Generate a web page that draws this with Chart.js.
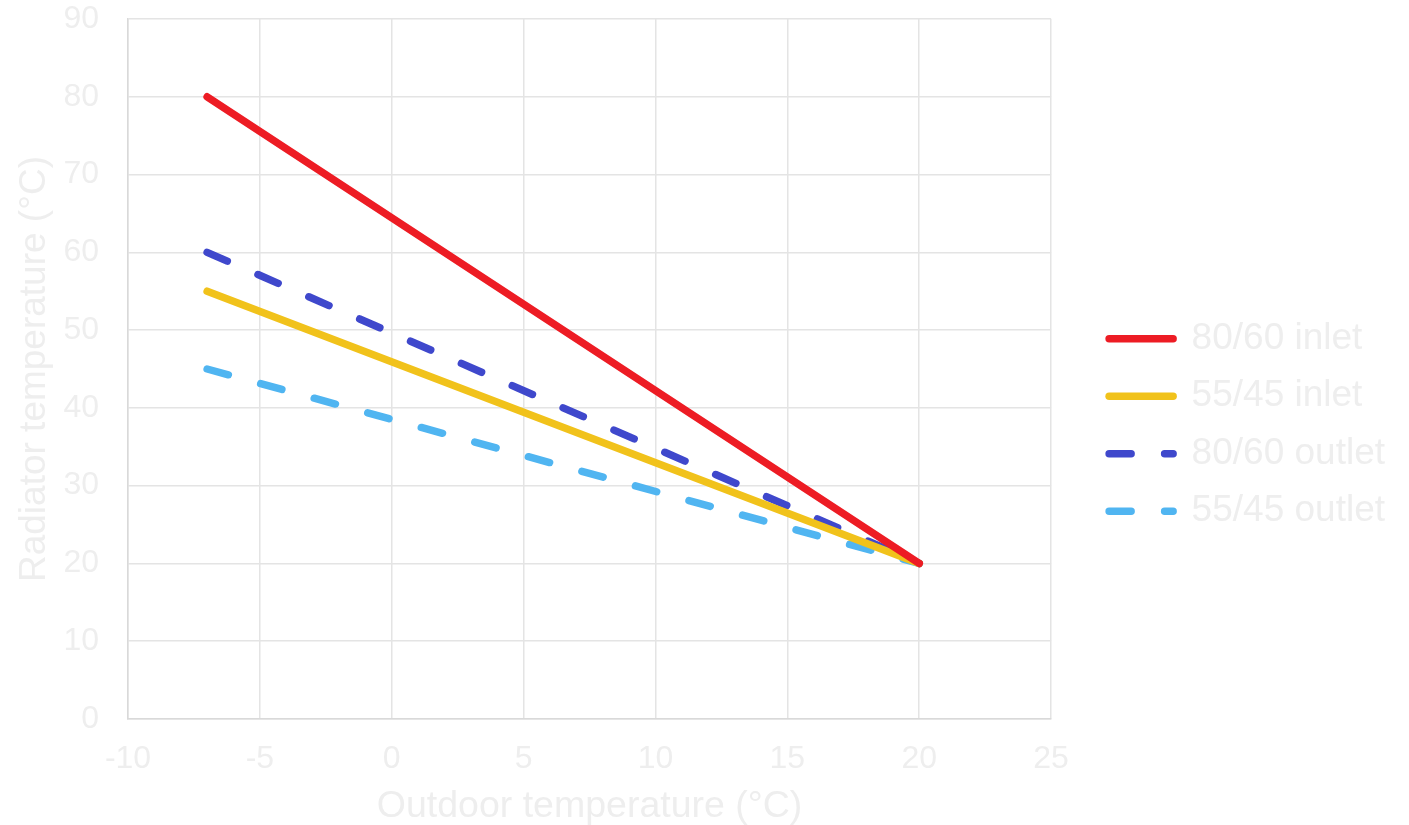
<!DOCTYPE html>
<html>
<head>
<meta charset="utf-8">
<title>Radiator temperature vs outdoor temperature</title>
<script src="https://cdn.jsdelivr.net/npm/chart.js@4/dist/chart.umd.min.js"></script>
<style>
  html, body { margin: 0; padding: 0; background: #ffffff; }
  #wrap { width: 1409px; height: 825px; }
</style>
</head>
<body>
<div id="wrap"><canvas id="chart" width="1409" height="825"></canvas></div>
<script>
// Outdoor temperature (°C) at the two ends of each heating curve
const outdoorTemps = [-7, 20];

// Radiator temperatures (°C) for each system
const inlet8060 = [80, 20];
const inlet5545 = [55, 20];
const outlet8060 = [60, 20];
const outlet5545 = [45, 20];

const seriesNames = ['80/60 inlet', '55/45 inlet', '80/60 outlet', '55/45 outlet'];

// Axis tick values
const xTickValues = [-10, -5, 0, 5, 10, 15, 20, 25];
const yTickValues = [0, 10, 20, 30, 40, 50, 60, 70, 80, 90];

const FONT = "'Liberation Sans', Arial, Helvetica, sans-serif";
const TEXT = '#eeeeee';
const GRID = '#e4e4e4';
const LINE_W = 7.5;
const DASH = [22, 33.5];

function toPoints(values) {
  return outdoorTemps.map((x, i) => ({ x: x, y: values[i] }));
}

function series(label, values, color, dash) {
  return {
    label: label,
    data: toPoints(values),
    borderColor: color,
    backgroundColor: color,
    borderWidth: LINE_W,
    borderDash: dash,
    borderCapStyle: 'round',
    borderJoinStyle: 'round',
    pointRadius: 0,
    pointHoverRadius: 0,
    fill: false,
    tension: 0
  };
}

// Empty layout box that keeps some white space between the plot and the legend
const legendGap = {
  id: 'legendGap',
  beforeInit(chart) {
    Chart.layouts.addBox(chart, {
      position: 'right',
      weight: 0,
      fullSize: false,
      options: {},
      left: 0, top: 0, right: 0, bottom: 0, width: 0, height: 0,
      update(maxWidth, maxHeight) { this.width = 37.5; this.height = maxHeight; },
      isHorizontal() { return false; },
      getPadding() { return { left: 0, right: 0, top: 0, bottom: 0 }; },
      draw() {}
    });
  }
};

new Chart(document.getElementById('chart'), {
  type: 'line',
  data: {
    datasets: [
      series(seriesNames[0], inlet8060, '#ed1c24', []),
      series(seriesNames[1], inlet5545, '#f1c21b', []),
      series(seriesNames[2], outlet8060, '#3f48cc', DASH),
      series(seriesNames[3], outlet5545, '#50b5f1', DASH)
    ]
  },
  plugins: [legendGap],
  options: {
    responsive: false,
    animation: false,
    devicePixelRatio: 1,
    layout: { padding: { top: 19, right: 14, bottom: 0, left: 0 } },
    plugins: {
      tooltip: { enabled: false },
      legend: {
        position: 'right',
        align: 'center',
        maxWidth: 400,
        title: { display: true, text: '', font: { size: 6, lineHeight: 1 }, padding: 0 },
        labels: {
          usePointStyle: true,
          pointStyle: 'line',
          pointStyleWidth: 64,
          padding: 20.5,
          color: TEXT,
          font: { family: FONT, size: 37 },
          generateLabels: (chart) => chart.data.datasets.map((ds, i) => ({
            text: ds.label,
            fillStyle: ds.borderColor,
            strokeStyle: ds.borderColor,
            lineWidth: ds.borderWidth,
            lineDash: ds.borderDash,
            lineCap: 'round',
            lineJoin: 'round',
            pointStyle: 'line',
            fontColor: TEXT,
            hidden: false,
            datasetIndex: i
          }))
        }
      }
    },
    scales: {
      x: {
        type: 'linear',
        min: -10,
        max: 25,
        afterBuildTicks: (scale) => { scale.ticks = xTickValues.map(v => ({ value: v })); },
        afterFit: (scale) => { scale.height = 106; },
        grid: { color: GRID, lineWidth: 1.5, drawTicks: false },
        border: { color: '#d9d9d9', width: 1.5 },
        ticks: {
          padding: 21,
          color: TEXT,
          font: { family: FONT, size: 32 },
          maxRotation: 0,
          autoSkip: false
        },
        title: {
          display: true,
          text: 'Outdoor temperature (°C)',
          color: TEXT,
          font: { family: FONT, size: 37.5, lineHeight: 1 },
          padding: { top: 0, bottom: 0 }
        }
      },
      y: {
        type: 'linear',
        min: 0,
        max: 90,
        afterBuildTicks: (scale) => { scale.ticks = yTickValues.map(v => ({ value: v })); },
        afterFit: (scale) => { scale.width = 128; scale.paddingTop = 0; scale.paddingBottom = 0; },
        grid: { color: GRID, lineWidth: 1.5, drawTicks: false },
        border: { color: '#d9d9d9', width: 1.5 },
        ticks: {
          padding: 29,
          color: TEXT,
          font: { family: FONT, size: 32 },
          autoSkip: false
        },
        title: {
          display: true,
          text: 'Radiator temperature (°C)',
          color: TEXT,
          font: { family: FONT, size: 37 },
          padding: { top: 13, bottom: 0 }
        }
      }
    }
  }
});
</script>
</body>
</html>
